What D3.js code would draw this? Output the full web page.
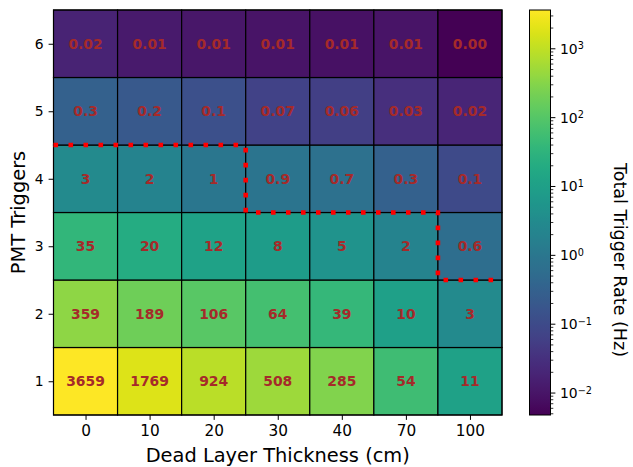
<!DOCTYPE html>
<html>
<head>
<meta charset="utf-8">
<script src="https://cdn.jsdelivr.net/npm/d3@7"></script>
<style>
  html, body { margin: 0; padding: 0; background: #fff; }
  svg { display: block; font-family: "DejaVu Sans", sans-serif; }
</style>
</head>
<body>
<svg id="chart" width="633" height="467"></svg>
<script>
// ---------------- data ----------------
const thickness = ["0", "10", "20", "30", "40", "70", "100"];   // x categories (cm)
const triggers = [1, 2, 3, 4, 5, 6];                              // y categories
// rates[row][col], row = PMT triggers 1..6, col = dead layer thickness
const rates1 = [3659, 1769, 924, 508, 285, 54, 11];
const rates2 = [359, 189, 106, 64, 39, 10, 3];
const rates3 = [35, 20, 12, 8, 5, 2, 0.6];
const rates4 = [3, 2, 1, 0.9, 0.7, 0.3, 0.1];
const rates5 = [0.3, 0.2, 0.13, 0.07, 0.06, 0.03, 0.02];
const rates6 = [0.018, 0.012, 0.011, 0.010, 0.009, 0.010, 0.0048];
const rates = [rates1, rates2, rates3, rates4, rates5, rates6];
// boundary (column index, trigger level)
const boundary = [[-0.5, 4.5], [2.5, 4.5], [2.5, 3.5], [5.5, 3.5], [5.5, 2.5], [6.5, 2.5]];
const cbarTicks = [0.01, 0.1, 1, 10, 100, 1000];
const cbarTickExp = ["−2", "−1", "0", "1", "2", "3"];

// ---------------- layout ----------------
const svg = d3.select("#chart");
const L = 53.5, R = 502, T = 10, B = 415;
const CBL = 529.5, CBR = 550.5;

const vmin = d3.min(rates.flat()), vmax = d3.max(rates.flat());
const color = d3.scaleSequentialLog(d3.interpolateViridis).domain([vmin, vmax]);

const x = d3.scaleLinear().domain([-0.5, thickness.length - 0.5]).range([L, R]);
const y = d3.scaleLinear().domain([0.5, triggers.length + 0.5]).range([B, T]);

const cells = [];
rates.forEach((row, r) => row.forEach((v, c) => cells.push({ r, c, v })));

const fmt = v => v >= 1 ? d3.format(".0f")(v) : (v >= 0.1 ? d3.format(".1f")(v) : d3.format(".2f")(v));

const g = svg.append("g");
g.selectAll("rect.cell").data(cells).join("rect")
  .attr("class", "cell")
  .attr("x", d => x(d.c - 0.5))
  .attr("y", d => y(triggers[d.r] + 0.5))
  .attr("width", d => x(d.c + 0.5) - x(d.c - 0.5))
  .attr("height", d => y(triggers[d.r] - 0.5) - y(triggers[d.r] + 0.5))
  .attr("fill", d => color(d.v))
  .attr("stroke", "#000")
  .attr("stroke-width", 1.2);

g.selectAll("text.val").data(cells).join("text")
  .attr("class", "val")
  .attr("x", d => x(d.c))
  .attr("y", d => y(triggers[d.r]))
  .attr("dy", "0.36em")
  .attr("text-anchor", "middle")
  .attr("font-size", "13.9px")
  .attr("font-weight", "bold")
  .attr("fill", "#a52a2a")
  .text(d => fmt(d.v));

// frame
g.append("rect").attr("x", L).attr("y", T).attr("width", R - L).attr("height", B - T)
  .attr("fill", "none").attr("stroke", "#000").attr("stroke-width", 1);

// red boundary
g.append("path")
  .attr("d", d3.line().x(d => x(d[0])).y(d => y(d[1]))(boundary))
  .attr("fill", "none")
  .attr("stroke", "#ff0000")
  .attr("stroke-width", 4.6)
  .attr("stroke-dasharray", "4.6 10.4");

// axes
const xAxis = d3.axisBottom(x).tickValues(d3.range(thickness.length))
  .tickFormat(i => thickness[i]).tickSize(4.9).tickPadding(4.9);
const gx = svg.append("g").attr("transform", `translate(0,${B})`).call(xAxis);
gx.select(".domain").remove();
gx.selectAll("text").attr("font-size", "15.3px").attr("fill", "#000").attr("font-family", "DejaVu Sans");
gx.selectAll("line").attr("stroke", "#000");

const yAxis = d3.axisLeft(y).tickValues(triggers).tickFormat(d3.format("d")).tickSize(4.9).tickPadding(4.9);
const gy = svg.append("g").attr("transform", `translate(${L},0)`).call(yAxis);
gy.select(".domain").remove();
gy.selectAll("text").attr("font-size", "13.9px").attr("fill", "#000").attr("font-family", "DejaVu Sans");
gy.selectAll("line").attr("stroke", "#000");

svg.append("text").attr("x", (L + R) / 2).attr("y", 462)
  .attr("text-anchor", "middle").attr("font-size", "19.4px").text("Dead Layer Thickness (cm)");
svg.append("text").attr("transform", `translate(25,${(T + B) / 2}) rotate(-90)`)
  .attr("text-anchor", "middle").attr("font-size", "19.4px").text("PMT Triggers");

// colorbar
const cy = d3.scaleLog().domain([vmin, vmax]).range([B, T]);
const defs = svg.append("defs");
const grad = defs.append("linearGradient").attr("id", "cbgrad")
  .attr("x1", 0).attr("y1", 1).attr("x2", 0).attr("y2", 0);
d3.range(0, 1.0001, 0.02).forEach(t => {
  grad.append("stop").attr("offset", t).attr("stop-color", d3.interpolateViridis(t));
});
svg.append("rect").attr("x", CBL).attr("y", T).attr("width", CBR - CBL).attr("height", B - T)
  .attr("fill", "url(#cbgrad)").attr("stroke", "#000").attr("stroke-width", 1);

const minor = [];
for (let e = -3; e <= 3; e++) for (let k = 2; k <= 9; k++) {
  const v = k * Math.pow(10, e);
  if (v >= vmin && v <= vmax) minor.push(v);
}
svg.append("g").selectAll("line").data(minor).join("line")
  .attr("x1", CBR).attr("x2", CBR + 2.8)
  .attr("y1", d => cy(d)).attr("y2", d => cy(d))
  .attr("stroke", "#000").attr("stroke-width", 0.8);
svg.append("g").selectAll("line").data(cbarTicks).join("line")
  .attr("x1", CBR).attr("x2", CBR + 4.9)
  .attr("y1", d => cy(d)).attr("y2", d => cy(d))
  .attr("stroke", "#000").attr("stroke-width", 1);
const tl = svg.append("g").selectAll("text").data(cbarTicks).join("text")
  .attr("x", CBR + 9.5).attr("y", d => cy(d)).attr("dy", "0.36em")
  .attr("font-size", "13.9px").attr("fill", "#000");
tl.append("tspan").text("10");
tl.append("tspan").attr("dy", "-0.45em").attr("font-size", "9.7px").text((d, i) => cbarTickExp[i]);

svg.append("text").attr("transform", `translate(614,260) rotate(90)`)
  .attr("text-anchor", "middle").attr("font-size", "17.5px").text("Total Trigger Rate (Hz)");
</script>
</body>
</html>
